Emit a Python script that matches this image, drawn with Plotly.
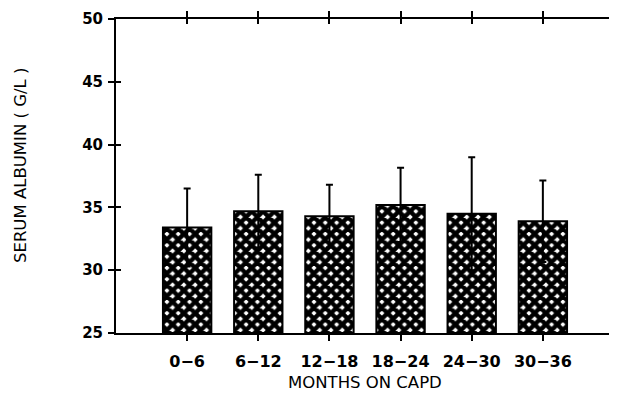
import plotly.graph_objects as go

categories = ["0−6", "6−12", "12−18", "18−24", "24−30", "30−36"]
positions = [1, 2, 3, 4, 5, 6]
albumin_mean = [33.4, 34.7, 34.3, 35.2, 34.5, 33.9]
albumin_sd = [3.1, 2.9, 2.5, 2.95, 4.5, 3.25]
y_ticks = [25, 30, 35, 40, 45, 50]

xtick_font = dict(family="DejaVu Sans", size=16, color="black", weight="bold")
ytick_font = dict(family="DejaVu Sans", size=15, color="black", weight="bold")
title_font = dict(family="DejaVu Sans", size=16.5, color="black")

fig = go.Figure()
fig.add_trace(go.Bar(
    x=positions, y=[m - 25 for m in albumin_mean], base=25,
    width=0.68,
    marker=dict(color="white",
                line=dict(color="black", width=2),
                pattern=dict(shape="x", fgcolor="black", bgcolor="white",
                             fgopacity=1, size=8, solidity=0.8)),
    error_y=dict(type="data", array=albumin_sd, visible=True,
                 color="black", thickness=2, width=3.5),
    showlegend=False, hoverinfo="skip",
))
# invisible helper trace for the overlay axes
fig.add_trace(go.Scatter(x=[1], y=[30], xaxis="x2", yaxis="y2",
                         mode="markers", marker=dict(opacity=0),
                         showlegend=False, hoverinfo="skip"))

fig.update_layout(
    width=607, height=388,
    margin=dict(l=108, r=1, t=11, b=63, autoexpand=False),
    paper_bgcolor="white", plot_bgcolor="white",
    xaxis=dict(range=[0, 7], tickvals=positions, ticktext=categories,
               ticks="outside", ticklen=6, tickwidth=2, tickcolor="black",
               showline=True, linewidth=2, linecolor="black", mirror="ticks",
               showgrid=False, zeroline=False, tickfont=xtick_font,
               ticklabelstandoff=7, automargin=False),
    yaxis=dict(range=[25, 50], tickvals=y_ticks,
               ticks="outside", ticklen=6, tickwidth=2, tickcolor="black",
               showline=True, linewidth=2, linecolor="black", mirror=True,
               showgrid=False, zeroline=False, tickfont=ytick_font,
               ticklabelstandoff=2, automargin=False),
    xaxis2=dict(range=[0, 7], tickvals=positions, overlaying="x", side="top",
                ticks="inside", ticklen=5, tickwidth=2, tickcolor="black",
                showticklabels=False, showgrid=False, zeroline=False,
                showline=False, automargin=False),
    yaxis2=dict(range=[25, 50], tickvals=y_ticks, overlaying="y", side="left",
                ticks="inside", ticklen=5, tickwidth=2, tickcolor="black",
                mirror="ticks", showticklabels=False, showgrid=False,
                zeroline=False, showline=False, automargin=False),
    annotations=[
        dict(text="SERUM ALBUMIN ( G/L )", textangle=-90, font=title_font,
             xref="paper", yref="paper", x=-0.1928, y=0.535,
             xanchor="center", yanchor="middle", showarrow=False),
        dict(text="MONTHS ON CAPD", font=title_font,
             xref="paper", yref="paper", x=0.5, y=-0.159,
             xanchor="center", yanchor="middle", showarrow=False),
    ],
)

fig.write_html("out.html")
